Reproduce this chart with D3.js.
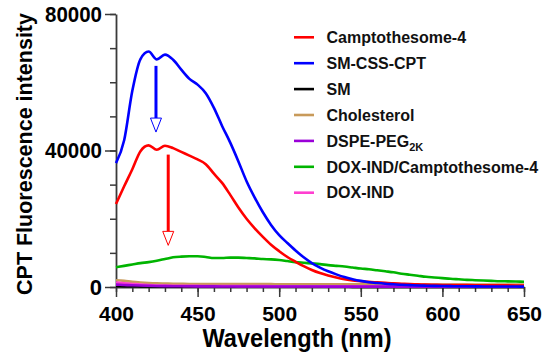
<!DOCTYPE html>
<html><head><meta charset="utf-8">
<script src="https://cdn.jsdelivr.net/npm/d3@7"></script>
<style>
html,body{margin:0;padding:0;background:#fff;}
svg{display:block;font-family:"Liberation Sans",Arial,sans-serif;}
</style></head>
<body><svg id="chart" width="544" height="364"></svg>
<script>
const wavelengths = d3.range(400, 651, 5);
const seriesNames = ["Camptothesome-4","SM-CSS-CPT","SM","Cholesterol","DSPE-PEG","DOX-IND/Camptothesome-4","DOX-IND"];
const seriesColors = ["#ff0000","#0000ff","#000000","#c89a5a","#9a00d8","#00b400","#ff3fd0"];
const camptothesome4 = [24300,29500,34500,39800,41500,40200,41400,40700,39600,38500,37400,36000,33200,30500,27000,23300,20000,17200,14700,12400,10500,8800,7400,6100,5000,4100,3400,2800,2300,1900,1700,1500,1350,1200,1050,950,850,780,700,650,600,580,560,540,520,500,490,480,470,460,450];
const smCssCpt = [36300,43000,57500,66800,69000,66700,68100,66600,63700,61000,59300,56800,52500,47200,42300,36800,31000,26200,21900,18200,15200,12900,10700,8700,7000,5700,4600,3700,2900,2300,1800,1400,1150,950,800,650,550,450,380,320,280,250,220,200,180,160,150,140,130,125,120];
const sm = [300,260,220,190,160,140,120,110,100,95,90,85,80,80,75,75,70,70,70,65,65,60,60,60,60,55,55,55,55,50,50,50,50,50,50,50,50,50,50,50,50,50,50,50,50,50,50,50,50,50,50];
const cholesterol = [2000,1800,1500,1300,1150,1050,1000,950,920,900,900,880,870,860,850,850,840,840,830,830,820,820,810,810,800,800,790,790,780,780,770,770,760,760,750,750,740,740,730,730,720,720,720,710,710,710,700,700,700,700,700];
const dspePeg = [700,600,500,420,350,300,260,230,210,200,190,180,170,165,160,155,150,145,140,140,135,135,130,130,125,125,120,120,120,115,115,115,110,110,110,110,105,105,105,105,100,100,100,100,100,100,100,100,100,100,100];
const doxIndCampto = [5800,6200,6600,7000,7300,7700,8200,8700,8900,9000,9000,8800,8500,8500,8600,8600,8500,8400,8200,8100,7900,7600,7300,7100,6900,6700,6400,6200,6000,5700,5400,5200,4900,4600,4300,3900,3600,3300,3000,2800,2600,2400,2250,2100,2000,1900,1800,1700,1650,1600,1550];
const doxInd = [1300,1100,900,700,550,450,400,370,350,330,320,310,300,290,280,270,260,250,245,240,235,230,225,220,215,210,205,200,200,195,195,190,190,185,185,180,180,180,175,175,175,170,170,170,165,165,165,160,160,160,160];
const seriesValues = [camptothesome4, smCssCpt, sm, cholesterol, dspePeg, doxIndCampto, doxInd];
const drawOrder = [2,3,6,4,5,0,1];
const xTicks = [400,450,500,550,600,650];
const yTicks = [0,40000,80000];
const arrows = [
  {w:424.5, from:64800, to:45400, color:"#0000ff"},
  {w:432, from:38800, to:12200, color:"#ff0000"}
];

const svg = d3.select("#chart");
const x = d3.scaleLinear().domain([400,650]).range([116,524]);
const y = d3.scaleLinear().domain([0,80000]).range([287,14]);

const axisColor = "#3a3a3a";
svg.append("g").attr("transform","translate(0,287)")
  .call(d3.axisBottom(x).tickValues(d3.range(400,651,10)).tickSize(5).tickFormat(""))
  .call(g=>g.select(".domain").remove())
  .selectAll("line").attr("stroke",axisColor).attr("stroke-width",1.5);
svg.append("g").attr("transform","translate(116,0)")
  .call(d3.axisLeft(y).tickValues(d3.range(0,80001,10000)).tickSize(6).tickFormat(""))
  .call(g=>g.select(".domain").remove())
  .selectAll("line").attr("stroke",axisColor).attr("stroke-width",1.5);

const xa = svg.append("g").attr("transform","translate(0,287)")
  .call(d3.axisBottom(x).tickValues(xTicks).tickSize(10).tickPadding(9).tickSizeOuter(0).tickFormat(d3.format("d")));
xa.select(".domain").attr("stroke",axisColor).attr("stroke-width",1.8);
xa.selectAll("line").attr("stroke",axisColor).attr("stroke-width",1.5);
xa.selectAll("text").attr("font-size","21px").attr("font-weight","bold").attr("fill","#000").attr("font-family","Liberation Sans, Arial, sans-serif");

const ya = svg.append("g").attr("transform","translate(116,0)")
  .call(d3.axisLeft(y).tickValues(yTicks).tickSize(11).tickPadding(3).tickSizeOuter(0).tickFormat(d3.format("d")));
ya.select(".domain").attr("stroke",axisColor).attr("stroke-width",1.8);
ya.selectAll("line").attr("stroke",axisColor).attr("stroke-width",1.5);
ya.selectAll("text").attr("font-size","22px").attr("font-weight","bold").attr("fill","#000").attr("font-family","Liberation Sans, Arial, sans-serif")
  .attr("textLength",d=>d===0?null:57).attr("lengthAdjust","spacingAndGlyphs");

const line = d3.line().x((d,i)=>x(wavelengths[i])).y(d=>y(d)).curve(d3.curveMonotoneX);
const plot = svg.append("g");
drawOrder.forEach(k=>{
  plot.append("path").attr("d", line(seriesValues[k]))
    .attr("fill","none").attr("stroke",seriesColors[k]).attr("stroke-width",2.6)
    .attr("stroke-linejoin","round");
});

arrows.forEach(a=>{
  const ax = x(a.w), y0 = y(a.from), y1 = y(a.to);
  const hh = 14, hw = 5.5;
  svg.append("line").attr("x1",ax).attr("x2",ax).attr("y1",y0).attr("y2",y1-hh)
    .attr("stroke",a.color).attr("stroke-width",3);
  svg.append("path").attr("d",`M${ax-hw},${y1-hh}L${ax+hw},${y1-hh}L${ax},${y1}Z`)
    .attr("fill","#fff").attr("stroke",a.color).attr("stroke-width",1);
});

svg.append("text").attr("x",297).attr("y",347).attr("text-anchor","middle")
  .attr("font-size","25px").attr("font-weight","bold")
  .attr("textLength",189).attr("lengthAdjust","spacingAndGlyphs").text("Wavelength (nm)");
svg.append("text").attr("transform","translate(31.5,154) rotate(-90)").attr("text-anchor","middle")
  .attr("font-size","21.5px").attr("font-weight","bold").text("CPT Fluorescence intensity");

const lg = svg.append("g");
seriesNames.forEach((n,i)=>{
  const yy = 37.3 + i*25.9;
  lg.append("line").attr("x1",294).attr("x2",314).attr("y1",yy).attr("y2",yy)
    .attr("stroke",seriesColors[i]).attr("stroke-width",2.6);
  const t = lg.append("text").attr("x",326.5).attr("y",yy).attr("dy","0.36em")
    .attr("font-size","16px").attr("font-weight","bold").attr("fill","#111").text(n);
  if(n==="DSPE-PEG"){
    t.append("tspan").attr("font-size","11px").attr("dy","4").text("2K");
  }
});
</script></body></html>
